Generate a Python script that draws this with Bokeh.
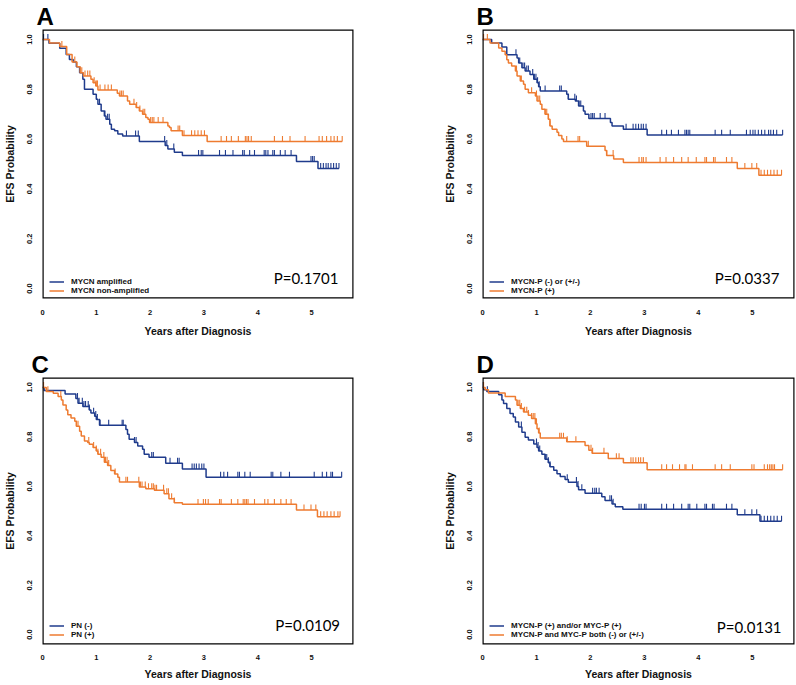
import numpy as np
from bokeh.plotting import figure
from bokeh.layouts import column, row
from bokeh.models import Range1d, FixedTicker, Label, Legend, LegendItem, BoxAnnotation
from bokeh.embed import file_html
from bokeh.resources import INLINE

BLUE = "#1f3b8c"
ORANGE = "#ee7b30"

x_ticks = [0, 1, 2, 3, 4, 5]
x_tick_labels = ["0", "1", "2", "3", "4", "5"]
y_ticks = [0.0, 0.2, 0.4, 0.6, 0.8, 1.0]
y_tick_labels = ["0.0", "0.2", "0.4", "0.6", "0.8", "1.0"]
x_title = "Years after Diagnosis"
y_title = "EFS Probability"

# ---------------- Panel A ----------------
A_amp_t = [0.12, 0.32, 0.44, 0.50, 0.57, 0.63, 0.69, 0.75, 0.78, 0.94, 1.00, 1.03, 1.09, 1.15, 1.18,
           1.25, 1.28, 1.34, 1.40, 1.49, 1.80, 2.28, 2.33, 2.45, 2.60, 4.72, 5.12]
A_amp_s = [0.985, 0.965, 0.94, 0.92, 0.91, 0.89, 0.866, 0.84, 0.80, 0.78, 0.76, 0.74, 0.713, 0.693, 0.68,
           0.66, 0.64, 0.633, 0.62, 0.612, 0.59, 0.574, 0.56, 0.547, 0.534, 0.51, 0.482]
A_amp_c = [0.02, 0.10, 1.06, 1.16, 1.21, 1.24, 1.56, 1.73, 1.78, 2.27, 2.31, 2.44, 2.90, 2.95, 2.98, 3.29,
           3.40, 3.54, 3.72, 3.75, 3.85, 3.94, 4.12, 4.15, 4.19, 4.28, 4.31, 4.42, 4.51, 4.62, 4.99, 5.02,
           5.05, 5.17, 5.22, 5.27, 5.31, 5.36, 5.41, 5.46, 5.51]
A_non_t = [0.13, 0.32, 0.45, 0.55, 0.64, 0.70, 0.76, 0.90, 0.94, 0.99, 1.03, 1.39, 1.43, 1.58, 1.62, 1.74,
           1.80, 1.86, 1.92, 1.96, 1.99, 2.33, 2.36, 2.39, 2.60, 3.06]
A_non_s = [0.986, 0.972, 0.94, 0.91, 0.89, 0.866, 0.853, 0.84, 0.826, 0.813, 0.797, 0.784, 0.773, 0.753,
           0.74, 0.727, 0.713, 0.70, 0.687, 0.68, 0.667, 0.653, 0.647, 0.633, 0.614, 0.59]
A_non_c = [0.36, 0.60, 0.73, 0.79, 0.84, 0.88, 0.96, 0.99, 1.01, 1.02, 1.07, 1.16, 1.22, 1.28, 1.44, 1.47,
           1.50, 1.70, 1.75, 1.81, 1.87, 1.90, 2.01, 2.04, 2.07, 2.15, 2.24, 2.52, 2.55, 2.63, 2.77, 2.83,
           2.89, 2.95, 3.01, 3.32, 3.42, 3.51, 3.64, 3.77, 3.80, 3.83, 3.88, 4.31, 4.46, 4.60, 4.88, 5.14,
           5.20, 5.28, 5.36, 5.42, 5.48, 5.57]

# ---------------- Panel B ----------------
B_neg_t = [0.17, 0.36, 0.45, 0.64, 0.67, 0.73, 0.79, 0.88, 0.95, 1.01, 1.04, 1.07, 1.56, 1.59, 1.72, 1.78,
           1.87, 1.90, 1.97, 2.37, 2.40, 2.61, 3.05]
B_neg_s = [0.986, 0.97, 0.939, 0.926, 0.906, 0.886, 0.873, 0.859, 0.84, 0.826, 0.81, 0.793, 0.78, 0.76,
           0.753, 0.733, 0.713, 0.70, 0.683, 0.667, 0.653, 0.64, 0.616]
B_neg_c = [0.62, 0.69, 0.75, 0.78, 0.82, 0.85, 0.93, 0.96, 0.99, 1.02, 1.05, 1.16, 1.43, 1.46, 1.59, 1.71,
           1.74, 1.79, 1.82, 2.01, 2.04, 2.07, 2.18, 2.27, 2.66, 2.79, 2.84, 2.89, 2.94, 2.98, 3.03, 3.32,
           3.41, 3.50, 3.63, 3.75, 3.78, 3.81, 3.84, 4.31, 4.43, 4.59, 4.89, 4.96, 5.01, 5.05, 5.11, 5.17,
           5.23, 5.30, 5.34, 5.39, 5.45, 5.56]
B_pos_t = [0.14, 0.30, 0.36, 0.42, 0.45, 0.48, 0.54, 0.61, 0.64, 0.70, 0.76, 0.79, 0.85, 0.98, 1.01, 1.07,
           1.10, 1.16, 1.22, 1.25, 1.29, 1.38, 1.41, 1.47, 1.50, 1.93, 2.27, 2.30, 2.43, 2.61, 4.72, 5.12]
B_pos_s = [0.986, 0.966, 0.953, 0.939, 0.919, 0.906, 0.893, 0.873, 0.853, 0.833, 0.82, 0.80, 0.786, 0.773,
           0.753, 0.74, 0.72, 0.70, 0.68, 0.653, 0.64, 0.627, 0.614, 0.60, 0.59, 0.571, 0.554, 0.534, 0.52,
           0.506, 0.482, 0.455]
B_pos_c = [0.02, 0.09, 0.63, 0.72, 0.91, 1.00, 1.03, 1.06, 1.16, 1.19, 1.22, 1.25, 1.56, 1.77, 1.80, 1.96,
           2.30, 2.42, 2.90, 2.95, 2.98, 3.03, 3.29, 3.40, 3.54, 3.69, 3.81, 3.96, 4.12, 4.15, 4.28, 4.31,
           4.52, 4.62, 4.86, 4.99, 5.08, 5.16, 5.22, 5.28, 5.34, 5.40, 5.46, 5.54]

# ---------------- Panel C ----------------
C_neg_t = [0.03, 0.42, 0.62, 0.66, 0.75, 0.87, 0.90, 0.97, 1.00, 1.06, 1.55, 1.58, 1.61, 1.71, 1.77, 1.86,
           1.89, 1.98, 2.29, 2.60, 3.04]
C_neg_s = [0.987, 0.973, 0.955, 0.936, 0.923, 0.909, 0.896, 0.883, 0.87, 0.847, 0.83, 0.81, 0.79, 0.777,
           0.763, 0.75, 0.73, 0.717, 0.693, 0.67, 0.637]
C_neg_c = [0.65, 0.68, 0.74, 0.77, 0.80, 0.85, 0.87, 0.95, 0.99, 1.02, 1.07, 1.23, 1.48, 1.50, 1.71, 1.74,
           2.03, 2.06, 2.37, 2.51, 2.54, 2.78, 2.82, 2.86, 2.91, 2.96, 3.00, 3.31, 3.37, 3.44, 3.63, 3.66,
           3.76, 3.86, 4.25, 4.28, 4.43, 4.59, 5.05, 5.20, 5.28, 5.36, 5.39, 5.56]
C_pos_t = [0.07, 0.20, 0.29, 0.35, 0.38, 0.44, 0.47, 0.53, 0.60, 0.63, 0.69, 0.72, 0.78, 0.84, 0.87, 0.94,
           1.00, 1.03, 1.09, 1.15, 1.21, 1.27, 1.34, 1.40, 1.43, 1.80, 1.92, 2.08, 2.26, 2.35, 2.45, 2.60,
           4.72, 5.11]
C_pos_s = [0.983, 0.976, 0.963, 0.949, 0.929, 0.909, 0.889, 0.876, 0.863, 0.843, 0.823, 0.803, 0.783,
           0.777, 0.77, 0.757, 0.743, 0.73, 0.717, 0.697, 0.684, 0.664, 0.65, 0.637, 0.617, 0.597, 0.59,
           0.584, 0.57, 0.55, 0.533, 0.527, 0.504, 0.477]
C_pos_c = [0.02, 0.10, 0.34, 0.63, 0.66, 0.86, 0.95, 1.00, 1.03, 1.08, 1.14, 1.17, 1.20, 1.23, 1.35, 1.55,
           1.58, 1.79, 1.82, 1.85, 1.91, 1.97, 2.03, 2.06, 2.09, 2.12, 2.25, 2.31, 2.34, 2.40, 2.45, 2.89,
           2.99, 3.03, 3.08, 3.29, 3.32, 3.51, 3.63, 3.73, 3.76, 3.79, 3.82, 3.94, 4.13, 4.19, 4.31, 4.43,
           4.53, 4.62, 4.86, 4.99, 5.08, 5.17, 5.23, 5.29, 5.36, 5.42, 5.49, 5.53]

# ---------------- Panel D ----------------
D_pos_t = [0.02, 0.08, 0.30, 0.36, 0.39, 0.45, 0.51, 0.57, 0.61, 0.67, 0.73, 0.79, 0.85, 0.95, 1.01, 1.04,
           1.10, 1.16, 1.22, 1.25, 1.32, 1.38, 1.44, 1.53, 1.59, 1.75, 1.78, 1.90, 2.21, 2.27, 2.40, 2.46,
           2.60, 4.72, 5.14]
D_pos_s = [0.99, 0.983, 0.97, 0.949, 0.935, 0.915, 0.894, 0.88, 0.86, 0.84, 0.819, 0.798, 0.787, 0.771,
           0.757, 0.743, 0.73, 0.709, 0.695, 0.679, 0.665, 0.651, 0.64, 0.627, 0.616, 0.599, 0.586, 0.572,
           0.558, 0.542, 0.528, 0.517, 0.507, 0.485, 0.459]
D_pos_c = [0.01, 0.09, 0.72, 1.00, 1.03, 1.06, 1.16, 1.19, 1.22, 1.25, 1.57, 1.74, 1.77, 1.84, 2.04, 2.08,
           2.11, 2.16, 2.36, 2.39, 2.42, 2.90, 2.94, 3.00, 3.03, 3.32, 3.41, 3.54, 3.69, 3.81, 3.84, 3.97,
           4.12, 4.15, 4.26, 4.29, 4.52, 4.62, 4.86, 4.99, 5.08, 5.16, 5.22, 5.28, 5.34, 5.40, 5.46, 5.54]
D_neg_t = [0.05, 0.11, 0.42, 0.61, 0.64, 0.70, 0.76, 0.85, 0.91, 0.98, 1.01, 1.04, 1.07, 1.56, 1.90, 1.97,
           2.03, 2.33, 2.61, 3.05]
D_neg_s = [0.99, 0.977, 0.963, 0.949, 0.928, 0.915, 0.90, 0.887, 0.874, 0.853, 0.833, 0.816, 0.795, 0.78,
           0.765, 0.746, 0.734, 0.712, 0.695, 0.667]
D_neg_c = [0.02, 0.66, 0.69, 0.72, 0.78, 0.82, 0.85, 0.91, 0.94, 0.97, 1.00, 1.05, 1.43, 1.46, 1.50, 1.57,
           1.73, 2.01, 2.04, 2.25, 2.48, 2.53, 2.75, 2.79, 2.84, 2.89, 2.93, 2.98, 3.32, 3.41, 3.52, 3.65,
           3.75, 3.77, 3.89, 4.31, 4.43, 4.59, 4.99, 5.03, 5.22, 5.28, 5.32, 5.35, 5.38, 5.41, 5.56]

panels = [
    dict(letter="A", pval="P=0.1701",
         curves=[("MYCN amplified", BLUE, A_amp_t, A_amp_s, A_amp_c),
                 ("MYCN non-amplified", ORANGE, A_non_t, A_non_s, A_non_c)]),
    dict(letter="B", pval="P=0.0337",
         curves=[("MYCN-P (-) or (+/-)", BLUE, B_neg_t, B_neg_s, B_neg_c),
                 ("MYCN-P (+)", ORANGE, B_pos_t, B_pos_s, B_pos_c)]),
    dict(letter="C", pval="P=0.0109",
         curves=[("PN (-)", BLUE, C_neg_t, C_neg_s, C_neg_c),
                 ("PN (+)", ORANGE, C_pos_t, C_pos_s, C_pos_c)]),
    dict(letter="D", pval="P=0.0131",
         curves=[("MYCN-P (+) and/or MYC-P (+)", BLUE, D_pos_t, D_pos_s, D_pos_c),
                 ("MYCN-P and MYC-P both (-) or (+/-)", ORANGE, D_neg_t, D_neg_s, D_neg_c)]),
]

# layout parameters (pixels) per panel; frames in one row share top/bottom borders
geom = [
    dict(w=396, h=340, bl=41, br=43, bt=27, bb=42, xl_stand=11, xt_stand=7,
         letter_off=-6, p_x=5.50, p_y=0.043, leg=(7, 3)),
    dict(w=400, h=340, bl=86, br=2, bt=27, bb=42, xl_stand=11, xt_stand=7,
         letter_off=-6, p_x=5.50, p_y=0.043, leg=(7, 3)),
    dict(w=396, h=344, bl=41, br=43, bt=37, bb=40, xl_stand=10, xt_stand=5,
         letter_off=-11, p_x=5.53, p_y=0.039, leg=(7, 5)),
    dict(w=400, h=344, bl=86, br=2, bt=37, bb=40, xl_stand=10, xt_stand=5,
         letter_off=-6, p_x=5.54, p_y=0.030, leg=(7, 5)),
]


def km_xy(t, s, end):
    x = np.concatenate([[0.0], np.asarray(t, float), [end]])
    y = np.concatenate([[1.0], np.asarray(s, float), [s[-1]]])
    return x, y


def surv_at(t, s, times):
    idx = np.searchsorted(np.asarray(t, float), np.asarray(times, float), side="right")
    full = np.concatenate([[1.0], np.asarray(s, float)])
    return full[idx]


def make_panel(spec, g):
    p = figure(width=g["w"], height=g["h"], x_range=Range1d(0, 5.78), y_range=Range1d(-0.04, 1.04),
               output_backend="svg", toolbar_location=None,
               min_border_left=g["bl"], min_border_right=g["br"],
               min_border_top=g["bt"], min_border_bottom=g["bb"])
    p.grid.visible = False
    p.outline_line_color = None
    p.background_fill_color = "white"
    p.border_fill_color = "white"

    # panel letter as the figure title
    p.title.text = spec["letter"]
    p.title.text_font = "Liberation Sans"
    p.title.text_font_style = "bold"
    p.title.text_font_size = "24px"
    p.title.text_color = "black"
    p.title.align = "left"
    p.title.offset = g["letter_off"]
    p.title.standoff = 0

    for ax in p.axis:
        ax.axis_line_color = None
        ax.major_tick_line_color = None
        ax.minor_tick_line_color = None
        ax.major_tick_out = 0
        ax.major_tick_in = 0
        ax.minor_tick_out = 0
        ax.minor_tick_in = 0
        ax.major_label_text_font = "Liberation Sans"
        ax.major_label_text_font_style = "bold"
        ax.major_label_text_font_size = "7.5px"
        ax.major_label_text_color = "#111111"
        ax.axis_label_text_font = "Liberation Sans"
        ax.axis_label_text_font_style = "bold"
        ax.axis_label_text_font_size = "10.5px"
        ax.axis_label_text_color = "#111111"
    p.xaxis.ticker = FixedTicker(ticks=x_ticks)
    p.xaxis.major_label_overrides = dict(zip(x_ticks, x_tick_labels))
    p.yaxis.ticker = FixedTicker(ticks=y_ticks)
    p.yaxis.major_label_overrides = dict(zip(y_ticks, y_tick_labels))
    p.yaxis.major_label_orientation = "vertical"
    p.xaxis.axis_label = x_title
    p.yaxis.axis_label = y_title
    p.xaxis.major_label_standoff = g["xl_stand"]
    p.xaxis.axis_label_standoff = g["xt_stand"]
    p.yaxis.major_label_standoff = 10
    p.yaxis.axis_label_standoff = 9

    items = []
    for label, color, t, s, c in spec["curves"]:
        end = max(c)
        x, y = km_xy(t, s, end)
        r = p.step(x, y, mode="after", line_color=color, line_width=1.5)
        sc = surv_at(t, s, c)
        p.segment(x0=c, y0=sc, x1=c, y1=sc + 0.022, line_color=color, line_width=1.1)
        items.append(LegendItem(label=label, renderers=[r]))

    # frame box
    p.add_layout(BoxAnnotation(left=0, right=5.78, bottom=-0.04, top=1.04, fill_alpha=0,
                               line_color="black", line_width=2.4, line_alpha=1))

    leg = Legend(items=items, location=g["leg"], border_line_color=None, background_fill_alpha=0,
                 padding=0, margin=0, spacing=0, glyph_width=15, glyph_height=9, label_height=9,
                 label_standoff=7, label_text_font="Liberation Sans", label_text_font_style="bold",
                 label_text_font_size="8px", label_text_color="#111111")
    p.add_layout(leg)

    p.add_layout(Label(x=g["p_x"], y=g["p_y"], text=spec["pval"], text_font="Lato",
                       text_font_size="15px", text_color="black", text_align="right",
                       text_baseline="middle"))
    return p


figs = [make_panel(s, g) for s, g in zip(panels, geom)]
layout = column(row(figs[0], figs[1]), row(figs[2], figs[3]))

open("out.html", "w").write(file_html(layout, INLINE))
